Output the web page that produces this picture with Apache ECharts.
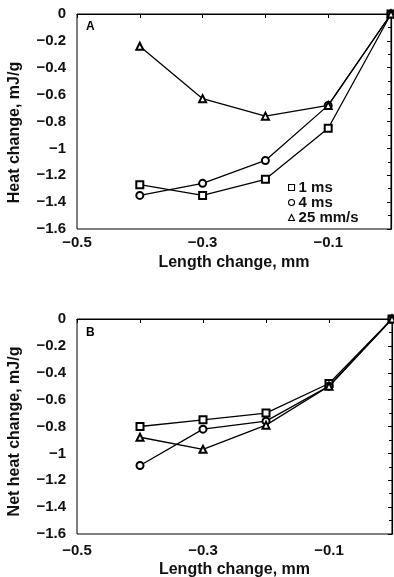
<!DOCTYPE html>
<html>
<head>
<meta charset="utf-8">
<script src="https://cdn.jsdelivr.net/npm/echarts@6/dist/echarts.min.js"></script>
<style>
  html, body { margin: 0; padding: 0; background: #fff; }
  #chart { width: 394px; height: 577px; }
</style>
</head>
<body>
<div id="chart"></div>
<script>
// length change (mm) at each measured point
const lengthChange = [-0.4, -0.3, -0.2, -0.1, 0];

// panel A: heat change, mJ/g
const heat1ms = [-1.27, -1.35, -1.23, -0.85, 0];
const heat4ms = [-1.35, -1.26, -1.09, -0.68, 0];
const heat25 = [-0.24, -0.63, -0.76, -0.68, 0];

// panel B: net heat change, mJ/g
const net1ms = [-0.80, -0.75, -0.70, -0.48, 0];
const net4ms = [-1.09, -0.82, -0.76, -0.50, 0];
const net25 = [-0.88, -0.97, -0.79, -0.50, 0];

const seriesNames = ['1 ms', '4 ms', '25 mm/s'];
const xLabelled = [-0.5, -0.3, -0.1];

const FONT = '"Liberation Sans", Arial, sans-serif';

const pairs = (ys) => lengthChange.map((x, i) => [x, ys[i]]);
const fmtNeg = (v) => {
  const r = +(+v).toFixed(1);
  return r === 0 ? '0' : (r < 0 ? '\u2212' : '') + Math.abs(r);
};

function xAxisFor(gridIndex, labelMargin, gap) {
  return {
    type: 'value', gridIndex, min: -0.5, max: 0, interval: 0.1,
    name: 'Length change, mm', nameLocation: 'middle', nameGap: gap,
    nameTextStyle: { fontFamily: FONT, fontWeight: 'bold', fontSize: 16, color: '#111' },
    axisLine: { lineStyle: { color: '#000', width: 1.2 } },
    axisTick: { length: 4, lineStyle: { color: '#000' } },
    axisLabel: {
      fontFamily: FONT, fontWeight: 'bold', fontSize: 15, color: '#111', margin: labelMargin,
      formatter: (v) => xLabelled.some((t) => Math.abs(t - v) < 1e-6) ? fmtNeg(v) : ''
    },
    splitLine: { show: false }
  };
}

// shift = how far (px) to push the rotated name down the page
function yAxisFor(gridIndex, name, shift) {
  return {
    type: 'value', gridIndex, min: -1.6, max: 0, interval: 0.2,
    name, nameLocation: 'middle', nameGap: 54,
    nameTextStyle: {
      fontFamily: FONT, fontWeight: 'bold', fontSize: 16, color: '#111',
      padding: [0, shift * 2, 0, 0]
    },
    axisLine: { show: true, lineStyle: { color: '#000', width: 1.2 } },
    axisTick: { show: true, length: 4, lineStyle: { color: '#000' } },
    minorTick: { show: true, splitNumber: 2, length: 3, lineStyle: { color: '#000' } },
    axisLabel: { fontFamily: FONT, fontWeight: 'bold', fontSize: 15, color: '#111', margin: 11, formatter: fmtNeg },
    splitLine: { show: false }
  };
}

function rightAxisFor(gridIndex) {
  return {
    type: 'value', gridIndex, position: 'right', min: -1.6, max: 0, interval: 0.2,
    axisLine: { show: true, lineStyle: { color: '#000', width: 1 } },
    axisTick: { show: true, inside: true, length: 3, lineStyle: { color: '#000' } },
    axisLabel: { show: false },
    splitLine: { show: false }
  };
}

function lineSeries(name, data, symbol, xi, yi) {
  return {
    name, type: 'line', xAxisIndex: xi, yAxisIndex: yi,
    data: pairs(data), symbol, symbolSize: 7,
    lineStyle: { color: '#000', width: 1.3 },
    itemStyle: { color: '#000', borderColor: '#000', borderWidth: 1.2 },
    animation: false
  };
}

const chart = echarts.init(document.getElementById('chart'), null, { renderer: 'canvas' });

const option = {
  backgroundColor: '#fff',
  animation: false,
  title: [
    { text: 'A', left: 81, top: 16, textStyle: { fontFamily: FONT, fontWeight: 'bold', fontSize: 12, color: '#000' } },
    { text: 'B', left: 81, top: 322, textStyle: { fontFamily: FONT, fontWeight: 'bold', fontSize: 12, color: '#000' } }
  ],
  legend: {
    data: [
      { name: seriesNames[0], icon: 'rect' },
      { name: seriesNames[1], icon: 'circle' },
      { name: seriesNames[2], icon: 'triangle' }
    ],
    orient: 'vertical', left: 283, top: 175, itemGap: 0,
    itemWidth: 6, itemHeight: 6,
    itemStyle: { color: '#fff', borderColor: '#000', borderWidth: 1.1 },
    lineStyle: { opacity: 0 },
    textStyle: { fontFamily: FONT, fontWeight: 'bold', fontSize: 15, color: '#111', padding: [0, 0, 0, -1] },
    selectedMode: false
  },
  grid: [
    { left: 77, top: 14, width: 314, height: 215, outerBoundsMode: 'none', show: true, borderColor: '#000', borderWidth: 1 },
    { left: 77, top: 319, width: 315, height: 215, outerBoundsMode: 'none', show: true, borderColor: '#000', borderWidth: 1 }
  ],
  xAxis: [xAxisFor(0, 6, 26), xAxisFor(1, 9, 28)],
  yAxis: [
    yAxisFor(0, 'Heat change, mJ/g', 11),
    yAxisFor(1, 'Net heat change, mJ/g', 5),
    rightAxisFor(0),
    rightAxisFor(1)
  ],
  series: [
    lineSeries(seriesNames[0], heat1ms, 'emptyRect', 0, 0),
    lineSeries(seriesNames[1], heat4ms, 'emptyCircle', 0, 0),
    lineSeries(seriesNames[2], heat25, 'emptyTriangle', 0, 0),
    lineSeries(seriesNames[0], net1ms, 'emptyRect', 1, 1),
    lineSeries(seriesNames[1], net4ms, 'emptyCircle', 1, 1),
    lineSeries(seriesNames[2], net25, 'emptyTriangle', 1, 1)
  ]
};

chart.setOption(option);
window.addEventListener('resize', () => { chart.resize(); });
</script>
</body>
</html>
